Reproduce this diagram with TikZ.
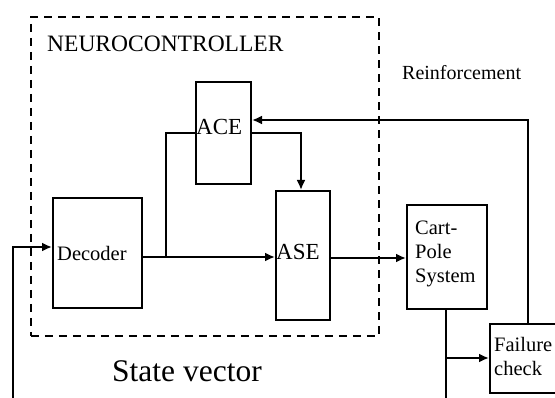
\documentclass[tikz,border=0pt]{standalone}
\usepackage{fontspec}
\setmainfont{Liberation Serif}
\usetikzlibrary{arrows.meta,calc}
\begin{document}
\begin{tikzpicture}[x=1pt,y=-1pt,
  box/.style={draw, line width=2pt, inner sep=0pt, anchor=north west},
  lbl/.style={anchor=base west, inner sep=0pt, font=\fontsize{20.5}{24}\selectfont},
  wire/.style={line width=2pt},
  arr/.style={wire, -{Latex[length=10pt,width=9pt]}},
  dashbox/.style={draw, line width=1.6pt, dash pattern=on 8pt off 6pt, inner sep=0pt, anchor=north west}]
\clip (0,0) rectangle (555,398);
% boxes
\node[dashbox, minimum width=348pt, minimum height=319pt] (nc) at (30,16) {};
\node[box, minimum width=55pt, minimum height=102pt] (ace) at (195,81) {};
\node[box, minimum width=54pt, minimum height=129pt] (ase) at (275,190) {};
\node[box, minimum width=89pt, minimum height=110pt] (dec) at (52,197) {};
\node[box, minimum width=80pt, minimum height=104pt] (cps) at (406,204) {};
\node[box, minimum width=80pt, minimum height=69pt] (fail) at (489,323) {};
% texts
\node[lbl, font=\fontsize{23.5}{28}\selectfont] (tnc) at (47,52) {NEUROCONTROLLER};
\node[lbl, font=\fontsize{23}{28}\selectfont] (tace) at (196,135) {ACE};
\node[lbl, font=\fontsize{23}{28}\selectfont] (tase) at (276,260) {ASE};
\node[lbl] (tdec) at (57,261) {Decoder};
\node[lbl] (tcps1) at (415,235) {Cart-};
\node[lbl] (tcps2) at (415,259) {Pole};
\node[lbl] (tcps3) at (415,283) {System};
\node[lbl] (tf1) at (494,352) {Failure};
\node[lbl] (tf2) at (494,376) {check};
\node[lbl, font=\fontsize{20}{24}\selectfont] (trein) at (402,80) {Reinforcement};
\node[lbl, font=\fontsize{31.5}{36}\selectfont] (tsv) at (112,382) {State vector};
% junctions / free ends
\coordinate (sv) at (13,398);
\coordinate (cpo) at (446,398);
\coordinate (br) at (166,257);
\coordinate (fb) at (446,358);
% connectors
\draw[arr] ([xshift=39pt]fail.north west) |- ([yshift=-39pt]ace.north east);
\draw[arr] ([yshift=-52pt]ace.north east) -| ([xshift=26pt]ase.north west);
\draw[arr] ([yshift=-60pt]dec.north east) -- ([yshift=-67pt]ase.north west);
\draw[wire] (br) |- ([yshift=-52pt]ace.north west);
\draw[arr] ([yshift=-68pt]ase.north east) -- ([yshift=-54pt]cps.north west);
\draw[arr] (sv) |- ([yshift=-50pt]dec.north west);
\draw[wire] ([xshift=40pt]cps.south west) -- (cpo);
\draw[arr] (fb) -- ([yshift=-35pt]fail.north west);
\end{tikzpicture}
\end{document}
